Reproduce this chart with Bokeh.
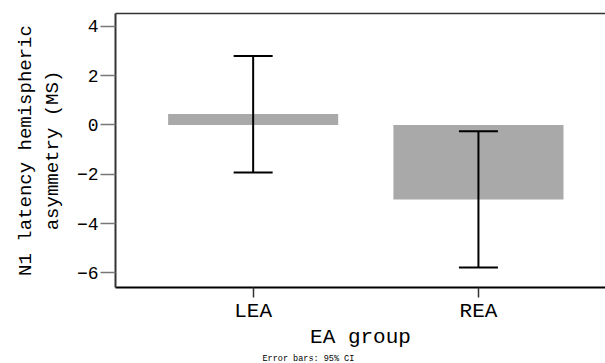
from bokeh.plotting import figure
from bokeh.models import (Range1d, FixedTicker, Whisker, TeeHead, ColumnDataSource,
                          LinearAxis, Title)
from bokeh.embed import file_html
from bokeh.resources import INLINE

categories = ["LEA", "REA"]
means = [0.45, -3.02]
ci_lower = [-1.93, -5.78]
ci_upper = [2.80, -0.25]
y_ticks = [-6, -4, -2, 0, 2, 4]

FONT = "Liberation Mono"
xs = list(range(len(categories)))

p = figure(width=605, height=363,
           x_range=Range1d(-0.611, 1.564), y_range=Range1d(-6.59, 4.52),
           output_backend="svg", toolbar_location=None,
           min_border_left=115, min_border_right=0, min_border_top=13, min_border_bottom=0)
p.outline_line_color = None
p.xgrid.visible = False
p.ygrid.visible = False
p.background_fill_color = "white"
p.border_fill_color = "white"

src = ColumnDataSource(dict(x=xs, top=means, lower=ci_lower, upper=ci_upper))
p.vbar(x="x", top="top", bottom=0, width=0.755, source=src,
       fill_color="#a9a9a9", line_color=None)

w = Whisker(base="x", upper="upper", lower="lower", source=src,
            line_width=2, line_color="black", level="overlay",
            upper_head=TeeHead(size=39, line_width=2, line_color="black"),
            lower_head=TeeHead(size=39, line_width=2, line_color="black"))
p.add_layout(w)

# x axis
xa = p.xaxis[0]
xa.ticker = FixedTicker(ticks=xs)
xa.major_label_overrides = {i: c for i, c in zip(xs, categories)}
xa.minor_tick_line_color = None
xa.major_tick_in = 0
xa.major_tick_out = 10
xa.major_tick_line_color = "#333333"
xa.major_tick_line_width = 1.5
xa.axis_line_color = "black"
xa.axis_line_width = 2
xa.major_label_text_font = FONT
xa.major_label_text_font_size = "21px"
xa.major_label_text_color = "black"
xa.major_label_standoff = 2
xa.axis_label = "EA group"
xa.axis_label_text_font = FONT
xa.axis_label_text_font_size = "21px"
xa.axis_label_text_font_style = "normal"
xa.axis_label_text_color = "black"
xa.axis_label_standoff = 0

# y axis
ya = p.yaxis[0]
ya.ticker = FixedTicker(ticks=y_ticks)
ya.minor_tick_line_color = None
ya.major_tick_in = 0
ya.major_tick_out = 15
ya.major_tick_line_color = "#777777"
ya.major_tick_line_width = 1.5
ya.axis_line_color = "#333333"
ya.axis_line_width = 2
ya.major_label_text_font = FONT
ya.major_label_text_font_size = "18px"
ya.major_label_text_color = "black"
ya.major_label_standoff = 2
ya.axis_label = "N1 latency hemispheric\nasymmetry (MS)"
ya.axis_label_text_font = FONT
ya.axis_label_text_font_size = "19px"
ya.axis_label_text_font_style = "normal"
ya.axis_label_text_color = "black"
ya.axis_label_standoff = 10

# top frame line
top = LinearAxis(ticker=FixedTicker(ticks=[]), axis_line_color="#333333", axis_line_width=1.5,
                 major_tick_line_color=None, minor_tick_line_color=None)
p.add_layout(top, "above")

foot = Title(text="Error bars: 95% CI", align="left", offset=147, standoff=0,
             text_font=FONT, text_font_size="8.5px", text_font_style="normal",
             text_color="black")
p.add_layout(foot, "below")

open("out.html", "w").write(file_html(p, INLINE))
